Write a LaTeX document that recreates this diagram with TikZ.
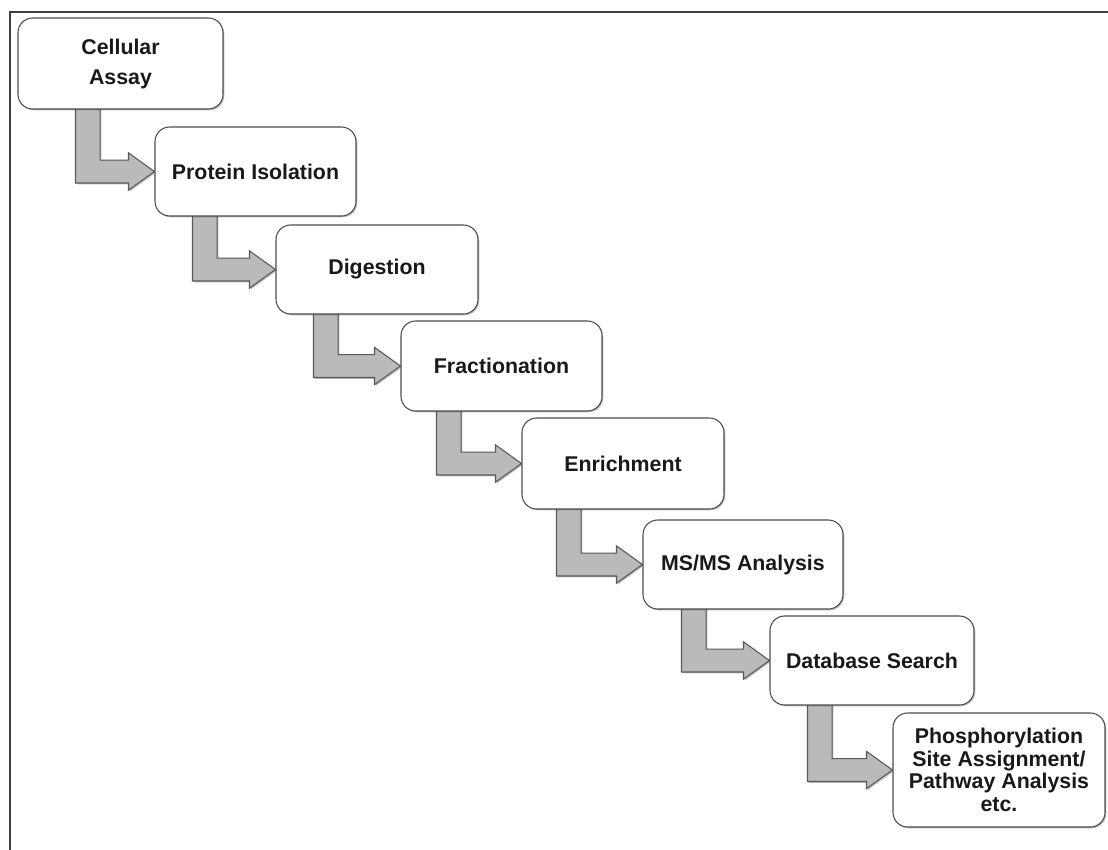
\documentclass[tikz,border=0pt]{standalone}
\usepackage{fontspec}
\setmainfont{Liberation Sans}
\usetikzlibrary{calc,shadows,backgrounds}
\tikzset{
  stepbox/.style={draw=black!70, line width=0.8pt, fill=white, rounded corners=11pt,
    inner sep=0pt, align=center, text=black!90,
    font=\fontsize{16}{17}\selectfont\bfseries,
    drop shadow={shadow xshift=1pt, shadow yshift=-1pt, opacity=0.25, fill=black}},
  arr/.style={draw=black!65, line width=0.8pt, fill=black!27, line join=miter,
    drop shadow={shadow xshift=1pt, shadow yshift=-1pt, opacity=0.25, fill=black}},
  frameline/.style={draw=black!75, line width=1.5pt}
}
\newcommand\flowarrow[3]{%
  \path (#2.west) coordinate (T) (#1.south) coordinate (S);
  \path[arr] let \p1=(T), \p2=(S) in
    (\x1+#3*0.75pt,\y2+2pt) -- (\x1+#3*0.75pt+18.5pt,\y2+2pt)
    -- (\x1+#3*0.75pt+18.5pt,\y1+8.6pt) -- (\x1-19.5pt,\y1+8.6pt)
    -- (\x1-19.5pt,\y1+14pt) -- (\x1,\y1) -- (\x1-19.5pt,\y1-14pt)
    -- (\x1-19.5pt,\y1-8.6pt) -- (\x1+#3*0.75pt,\y1-8.6pt) -- cycle;
}
\begin{document}
\begin{tikzpicture}[x=0.75pt,y=-0.75pt]
\useasboundingbox (0,0) rectangle (1108,850);
\node[stepbox, minimum width=153.75pt, minimum height=68.25pt,
  font=\fontsize{16}{22.5}\selectfont\bfseries] (b1) at (120.5,63.5) {Cellular\\Assay};
\node[stepbox, minimum width=150.75pt, minimum height=66.75pt] (b2) at (255.5,171.5) {Protein Isolation};
\node[stepbox, minimum width=151.5pt, minimum height=66.75pt] (b3) at (377,269.5) {Digestion};
\node[stepbox, minimum width=150.75pt, minimum height=67.5pt] (b4) at (501.5,366) {Fractionation};
\node[stepbox, minimum width=151.5pt, minimum height=68.25pt] (b5) at (623,463.5) {Enrichment};
\node[stepbox, minimum width=150pt, minimum height=66.75pt] (b6) at (743,564.5) {MS/MS Analysis};
\node[stepbox, minimum width=153pt, minimum height=66.75pt] (b7) at (872,660.5) {Database Search};
\node[stepbox, minimum width=159pt, minimum height=85.5pt] (b8) at (999,770) {Phosphorylation\\Site Assignment/\\Pathway Analysis\\etc.};
\begin{scope}[on background layer]
  \fill[white] (0,0) rectangle (1108,850);
  \draw[frameline] (10,850) -- (10,12) -- (1108,12);
  \flowarrow{b1}{b2}{-79}
  \flowarrow{b2}{b3}{-83}
  \flowarrow{b3}{b4}{-87}
  \flowarrow{b4}{b5}{-85}
  \flowarrow{b5}{b6}{-86}
  \flowarrow{b6}{b7}{-88}
  \flowarrow{b7}{b8}{-85}
\end{scope}
\end{tikzpicture}
\end{document}
